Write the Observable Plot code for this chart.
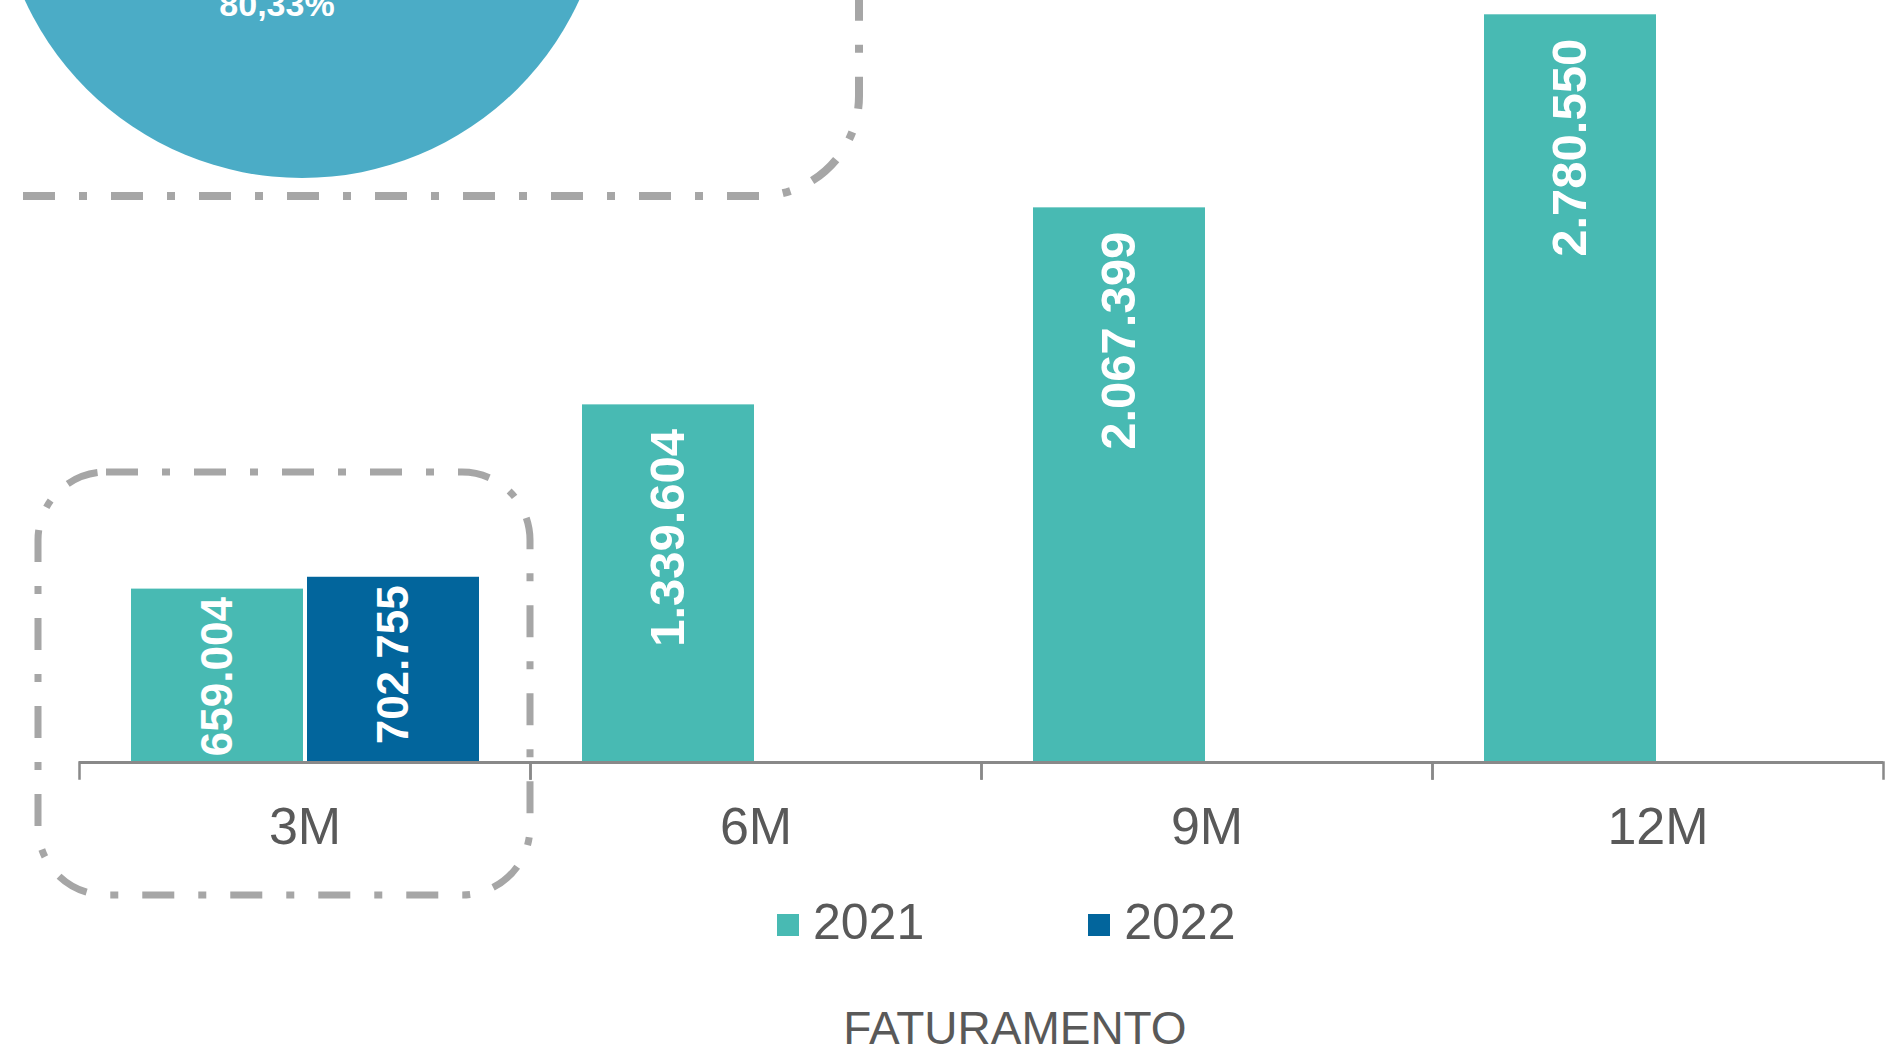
<!DOCTYPE html>
<html>
<head>
<meta charset="utf-8">
<script src="https://cdn.jsdelivr.net/npm/d3@7"></script>
<script src="https://cdn.jsdelivr.net/npm/@observablehq/plot@0.6"></script>
<style>
  html, body { margin: 0; padding: 0; background: #ffffff; overflow: hidden; }
  #wrap { position: relative; width: 1901px; height: 1058px; font-family: "Liberation Sans", Arial, sans-serif; }
  #chart svg { display: block; overflow: visible; }
  #legend { position: absolute; left: 777px; top: 897px; display: flex; align-items: center; }
  #legend .item { display: flex; align-items: center; margin-right: 164px; }
  #legend .sw { width: 22px; height: 22px; margin-right: 14px; margin-top: 6px; }
  #legend .tx { font-size: 50px; line-height: 50px; color: #595959; }
  #caption { position: absolute; left: 1015px; top: 1005px; transform: translateX(-50%); font-size: 46px; line-height: 46px; color: #595959; white-space: nowrap; }
</style>
</head>
<body>
<div id="wrap">
  <div id="chart"></div>
  <div id="legend"></div>
  <div id="caption"></div>
</div>
<script>
// ---- data ----
const categories = ["3M", "6M", "9M", "12M"];
const years = ["2021", "2022"];
const values2021 = [659004, 1339604, 2067399, 2780550];
const values2022 = [702755, null, null, null];
const colors = ["#48BAB3", "#02659C"];
const captionText = "FATURAMENTO";
const pieLabel = "80,33%";

// ---- table ----
const rows = [];
categories.forEach((c, i) => {
  if (values2021[i] != null) rows.push({cat: c, year: years[0], value: values2021[i]});
  if (values2022[i] != null) rows.push({cat: c, year: years[1], value: values2022[i]});
});

const br = d3.formatLocale({decimal: ",", thousands: ".", grouping: [3], currency: ["R$", ""]});
const fmt = br.format(",d");

const textFont = "'Liberation Sans', Arial, sans-serif";

const plot = Plot.plot({
  width: 1901,
  height: 900,
  marginLeft: 79,
  marginRight: 18,
  marginTop: 0,
  marginBottom: 138,
  style: {background: "transparent", fontFamily: textFont, overflow: "visible"},
  fx: {domain: categories, padding: 0, label: null, axis: null},
  x: {domain: years, paddingInner: 0.023, paddingOuter: 0.287, axis: null},
  y: {domain: [18480, 2833375], clamp: true, axis: null},
  color: {domain: years, range: colors},
  marks: [
    Plot.barY(rows, {fx: "cat", x: "year", y: "value", fill: "year"}),
    Plot.ruleY([0], {stroke: "#898989", strokeWidth: 3}),
    Plot.frame({anchor: "left", stroke: "#898989", strokeWidth: 2.5, insetTop: 762, insetBottom: -16}),
    Plot.frame({anchor: "right", stroke: "#898989", strokeWidth: 2.5, insetTop: 762, insetBottom: -16}),
    Plot.text(rows.filter(d => d.value >= 1e6), {
      fx: "cat", x: "year", y: "value", text: d => fmt(d.value),
      rotate: -90, textAnchor: "end", dy: 24, fill: "white",
      fontSize: 49, fontWeight: "bold", fontFamily: textFont
    }),
    Plot.text(rows.filter(d => d.value < 1e6), {
      fx: "cat", x: "year", y: "value", text: d => fmt(d.value),
      rotate: -90, textAnchor: "end", dy: 8, fill: "white",
      fontSize: 44, fontWeight: "bold", fontFamily: textFont
    }),
    Plot.axisFx({anchor: "bottom", tickSize: 0, tickPadding: 45, fontSize: 52, fill: "#595959", label: null, fontFamily: textFont})
  ]
});

// ---- decorations (fragments of a neighbouring chart and highlight boxes) ----
const svg = d3.select(plot);
const deco = svg.insert("g", ":first-child");
deco.append("circle").attr("cx", 302).attr("cy", -127).attr("r", 305).attr("fill", "#4BACC6");
deco.append("text").attr("x", 277).attr("y", 16).attr("text-anchor", "middle")
  .attr("fill", "white").attr("font-weight", "bold").attr("font-size", 34)
  .attr("font-family", textFont).text(pieLabel);
deco.append("path")
  .attr("d", "M23,196 H759 A100,100 0 0 0 859,96 V-20")
  .attr("fill", "none").attr("stroke", "#A6A6A6").attr("stroke-width", 8)
  .attr("stroke-dasharray", "32 24 8 24");
deco.append("rect")
  .attr("x", 38).attr("y", 472).attr("width", 492).attr("height", 423).attr("rx", 68)
  .attr("fill", "none").attr("stroke", "#A6A6A6").attr("stroke-width", 7)
  .attr("stroke-dasharray", "32 24 8 24");

document.getElementById("chart").appendChild(plot);

// ---- legend ----
const legend = d3.select("#legend");
years.forEach((y, i) => {
  const it = legend.append("div").attr("class", "item");
  it.append("div").attr("class", "sw").style("background", colors[i]);
  it.append("div").attr("class", "tx").text(y);
});
document.getElementById("caption").textContent = captionText;
</script>
</body>
</html>
